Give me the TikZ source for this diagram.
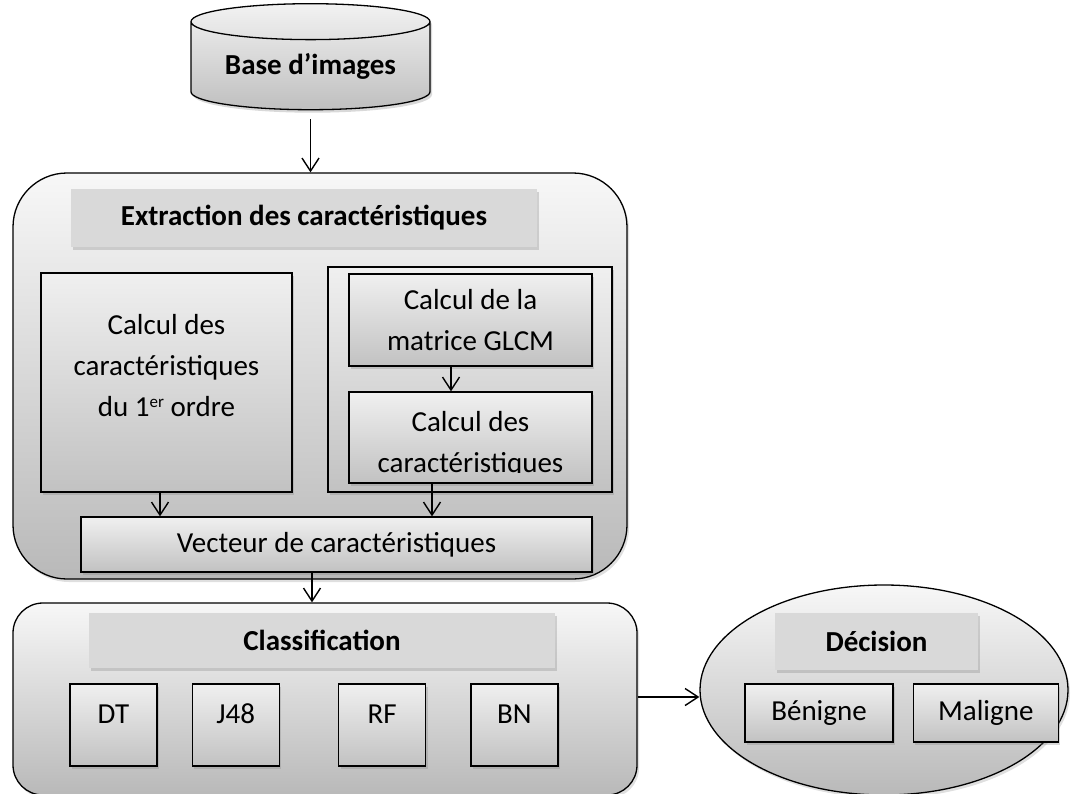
\documentclass[tikz,border=0pt]{standalone}
\usepackage{fontspec}
\setmainfont{Carlito}
\usepackage{tikz}
\usetikzlibrary{shapes.geometric, positioning, calc, arrows.meta, shadows}
\newcommand{\boxfont}{\fontsize{29}{41}\selectfont}
\newcommand{\supfont}{\fontsize{17}{17}\selectfont}
\tikzstyle{arrow} = [line width=1.4pt,-{Straight Barb[length=13pt,width=17pt]}]
\tikzstyle{panel} = [draw,line width=1.3pt,top color=gray!6,bottom color=gray!55,drop shadow={opacity=0.25,shadow xshift=2pt,shadow yshift=-3pt}]
\tikzstyle{block} = [draw,line width=1.3pt,top color=gray!12,bottom color=gray!48,inner sep=0pt,align=center,drop shadow={opacity=0.3,shadow xshift=2pt,shadow yshift=-3pt}]
\tikzstyle{heading} = [fill=gray!30,inner sep=0pt,font=\boxfont\bfseries,drop shadow={opacity=0.3,shadow xshift=1.5pt,shadow yshift=-2.5pt}]
\tikzstyle{algo} = [block,minimum width=87pt,text height=39pt,text depth=43pt]
\tikzstyle{database} = [cylinder,shape border rotate=90,aspect=0.21,draw,line width=1.3pt,top color=gray!10,bottom color=gray!50,minimum width=239pt,minimum height=106pt,inner sep=0pt,font=\boxfont\bfseries,drop shadow={opacity=0.3,shadow xshift=2pt,shadow yshift=-3pt}]

\begin{document}
\begin{tikzpicture}[x=1pt,y=-1pt,font=\boxfont]
    \useasboundingbox (0,0) rectangle (1071,793);
    \node[database] (base) at (310.5,66) {Base d’images};
    % extraction stage
    \node[panel,rounded corners=54pt,minimum width=614pt,minimum height=406pt] (extraction) at (320,376) {};
    \node[heading,minimum width=466pt,minimum height=58pt] (extraction-title) at (304,218) {Extraction des caractéristiques};
    \node[block,minimum width=251pt,minimum height=219pt] (firstorder) at (166.5,382.5) {};
    \node[align=center,inner sep=0pt,below=42pt of firstorder.north] (firstorder-txt) {Calcul des\\caractéristiques\\du 1\raisebox{9pt}{\supfont er} ordre};
    \node[block,minimum width=284pt,minimum height=225pt] (glcm-group) at (470,379.5) {};
    \node[block,minimum width=243pt,minimum height=92pt] (glcm) at (470.5,320) {Calcul de la\\matrice GLCM};
    \node[block,minimum width=243pt,minimum height=91pt] (texture) at (470.5,437.5) {};
    \begin{scope}
      \clip (texture.north west) rectangle ([yshift=11pt]texture.south east);
      \node[align=center,inner sep=0pt] (texture-txt) at ([yshift=-7pt]texture.center) {Calcul des\\caractéristiques};
    \end{scope}
    \node[block,minimum width=511pt,minimum height=55pt] (vecteur) at (336.5,544.5) {Vecteur de caractéristiques};
    % classification stage
    \node[panel,rounded corners=30pt,minimum width=624pt,minimum height=192pt] (classification) at (325,699) {};
    \node[heading,minimum width=466pt,minimum height=55pt] (classification-title) at (322,640.5) {Classification};
    \node[algo] (dt) at (113.5,725) {DT};
    \node[algo,right=34pt of dt] (j48) {J48};
    \node[algo,right=58pt of j48] (rf) {RF};
    \node[algo,right=44pt of rf] (bn) {BN};
    % decision
    \node[panel,ellipse,minimum width=368pt,minimum height=210pt] (decision) at (884,690) {};
    \node[heading,minimum width=203pt,minimum height=57pt] (decision-title) at (876.5,641.5) {Décision};
    \node[block,minimum width=148pt,minimum height=58pt] (benigne) at (819,713) {Bénigne};
    \node[block,minimum width=145pt,minimum height=58pt,right=19pt of benigne] (maligne) {Maligne};
    % links
    \draw[arrow,shorten <=9pt] (base.south) -- (base.south |- extraction.north);
    \draw[arrow] ([xshift=-6.5pt]firstorder.south) -- ([xshift=-6.5pt]firstorder.south |- vecteur.north);
    \draw[arrow] ([xshift=-19.5pt]glcm.south) -- ([xshift=-19.5pt]glcm.south |- texture.north);
    \draw[arrow] ([xshift=-38.5pt]texture.south) -- ([xshift=-38.5pt]texture.south |- vecteur.north);
    \draw[arrow] ([xshift=-24.5pt]vecteur.south) -- ([xshift=-24.5pt]vecteur.south |- classification.north);
    \draw[arrow] ([yshift=2pt]classification.east) -- ([yshift=2pt]classification.east -| decision.west);
\end{tikzpicture}
\end{document}
